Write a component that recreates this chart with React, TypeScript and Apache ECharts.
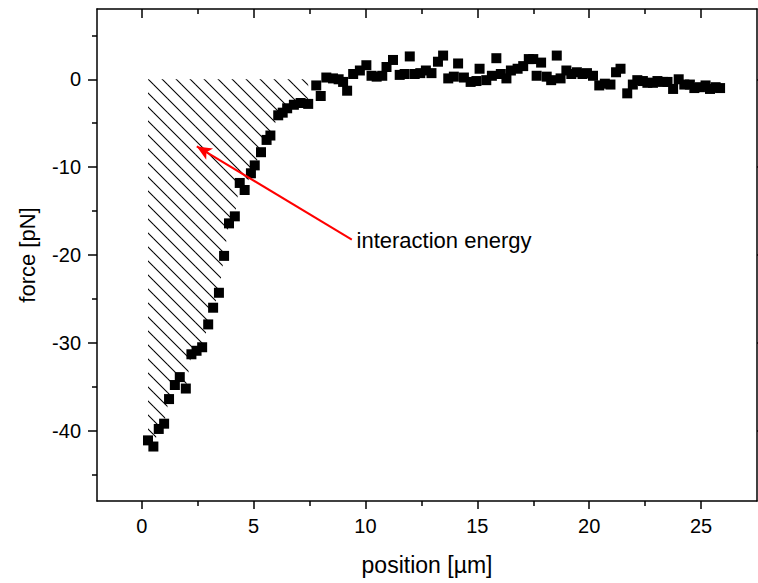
import React, { useEffect, useRef } from "react";
import * as echarts from "echarts";

const positionUm = [0.28,0.52,0.76,1.0,1.22,1.48,1.7,1.97,2.22,2.45,2.7,2.97,3.19,3.45,3.68,3.9,4.16,4.38,4.6,4.88,5.05,5.33,5.58,5.75,6.1,6.3,6.5,6.8,7.1,7.44,7.8,8.0,8.25,8.55,8.8,9.0,9.18,9.45,9.75,10.04,10.27,10.5,10.75,10.94,11.23,11.53,11.75,11.98,12.2,12.45,12.7,12.95,13.24,13.47,13.7,13.95,14.14,14.4,14.7,14.96,15.1,15.4,15.65,15.85,16.05,16.3,16.5,16.8,17.05,17.3,17.5,17.65,17.85,18.1,18.3,18.55,18.72,18.98,19.2,19.45,19.7,19.9,20.17,20.45,20.7,20.95,21.2,21.4,21.7,21.95,22.15,22.4,22.6,22.85,23.05,23.3,23.5,23.75,24.0,24.25,24.5,24.7,24.95,25.2,25.4,25.65,25.85];
const forcePN = [-41.1,-41.8,-39.8,-39.2,-36.4,-34.8,-33.9,-35.2,-31.3,-30.9,-30.5,-27.9,-26.0,-24.3,-20.1,-16.4,-15.6,-11.8,-12.6,-10.7,-9.8,-8.3,-6.9,-6.4,-4.1,-3.8,-3.3,-2.9,-2.7,-2.8,-0.7,-1.9,0.2,0.1,0.0,-0.3,-1.3,0.6,1.0,1.6,0.4,0.3,0.4,1.4,2.2,0.5,0.6,2.6,0.6,0.7,1.0,0.7,2.0,2.7,0.1,0.3,1.8,0.2,-0.3,-0.2,1.2,-0.1,0.4,2.4,0.6,0.1,1.0,1.2,1.5,2.3,2.3,0.4,1.9,0.3,-0.1,2.7,0.1,1.0,0.6,0.8,0.6,0.7,0.4,-0.7,-0.5,-0.6,0.8,1.2,-1.6,-0.6,-0.1,-0.2,-0.4,-0.4,-0.2,-0.3,-0.3,-1.1,0.0,-0.6,-0.6,-1.0,-0.9,-0.7,-1.1,-0.9,-1.0];

const hatchEndX = 7.44;
const xMajorTicks = [0, 5, 10, 15, 20, 25];
const xMinorTicks = [2.5, 7.5, 12.5, 17.5, 22.5];
const yMajorTicks = [-40, -30, -20, -10, 0];
const yMinorTicks = [-45, -35, -25, -15, -5, 5];
const arrowFrom = [9.39, -18.24];
const arrowTo = [2.46, -7.64];
const annotationAt = [9.58, -18.4];
const annotationText = "interaction energy";

const FONT = "'Liberation Sans', Arial, sans-serif";

function makeHatch(): HTMLCanvasElement {
  const s = 14;
  const c = document.createElement("canvas");
  c.width = s;
  c.height = s;
  const ctx = c.getContext("2d")!;
  ctx.strokeStyle = "#000";
  ctx.lineWidth = 1.1;
  const o = 13;
  for (let k = -2; k <= 2; k++) {
    const off = o + s * k;
    ctx.beginPath();
    ctx.moveTo(off - 4, -4);
    ctx.lineTo(off + s + 4, s + 4);
    ctx.stroke();
  }
  return c;
}

export default function App() {
  const ref = useRef<HTMLDivElement>(null);
  useEffect(() => {
    if (!ref.current) return;
    const chart = echarts.init(ref.current, null, { renderer: "svg" });
    const pts = positionUm.map((x, i) => [x, forcePN[i]]);
    const hatchPts = pts.filter((p) => p[0] <= hatchEndX);
    const hatch = makeHatch();
    const axisLine = { show: true, onZero: false, lineStyle: { color: "#000", width: 1.5 } };
    const noLine = { show: false, onZero: false };
    const baseX = { type: "value", min: -2, max: 27.5, splitLine: { show: false }, gridIndex: 0 };
    const baseY = { type: "value", min: -48, max: 8, splitLine: { show: false }, gridIndex: 0 };
    const tickStyle = { color: "#000", width: 1.5 };
    chart.setOption({
      animation: false,
      backgroundColor: "#fff",
      grid: { left: 97, right: 1, top: 9, bottom: 82, containLabel: false, outerBoundsMode: "none" },
      xAxis: [
        {
          ...baseX,
          position: "bottom",
          axisLine,
          axisTick: { show: true, inside: false, length: 8, customValues: xMajorTicks, lineStyle: tickStyle },
          axisLabel: { show: true, customValues: xMajorTicks, margin: 15, fontSize: 20, color: "#000", fontFamily: FONT },
          name: "position [µm]",
          nameLocation: "middle",
          nameGap: 52,
          nameTextStyle: { fontSize: 23, color: "#000", fontFamily: FONT },
        },
        {
          ...baseX,
          position: "bottom",
          axisLine: noLine,
          axisTick: { show: true, inside: false, length: 5, customValues: xMinorTicks, lineStyle: tickStyle },
          axisLabel: { show: false },
        },
        {
          ...baseX,
          position: "top",
          axisLine,
          axisTick: { show: true, inside: true, length: 9, customValues: xMajorTicks, lineStyle: tickStyle },
          axisLabel: { show: false },
        },
        {
          ...baseX,
          position: "top",
          axisLine: noLine,
          axisTick: { show: true, inside: true, length: 5, customValues: xMinorTicks, lineStyle: tickStyle },
          axisLabel: { show: false },
        },
      ],
      yAxis: [
        {
          ...baseY,
          position: "left",
          axisLine,
          axisTick: { show: true, inside: false, length: 9, customValues: yMajorTicks, lineStyle: tickStyle },
          axisLabel: { show: true, customValues: yMajorTicks, margin: 16, fontSize: 20, color: "#000", fontFamily: FONT },
          name: "force [pN]",
          nameLocation: "middle",
          nameGap: 59,
          nameRotate: 90,
          nameTextStyle: { fontSize: 22, color: "#000", fontFamily: FONT },
        },
        {
          ...baseY,
          position: "left",
          axisLine: noLine,
          axisTick: { show: true, inside: false, length: 5, customValues: yMinorTicks, lineStyle: tickStyle },
          axisLabel: { show: false },
        },
        {
          ...baseY,
          position: "right",
          axisLine,
          axisTick: { show: true, inside: false, length: 8, customValues: yMajorTicks, lineStyle: tickStyle },
          axisLabel: { show: false },
        },
      ],
      series: [
        {
          type: "line",
          name: "hatch",
          data: hatchPts,
          xAxisIndex: 0,
          yAxisIndex: 0,
          symbol: "none",
          lineStyle: { width: 0, opacity: 0 },
          areaStyle: {
            opacity: 1,
            origin: 0,
            color: { image: hatch, repeat: "repeat", imageWidth: 14, imageHeight: 14 } as any,
          },
          silent: true,
          z: 1,
        },
        {
          type: "scatter",
          name: "force",
          data: pts,
          xAxisIndex: 0,
          yAxisIndex: 0,
          symbol: "rect",
          symbolSize: 10,
          itemStyle: { color: "#000", opacity: 1 },
          z: 3,
          markLine: {
            silent: true,
            symbol: ["none", "arrow"],
            symbolSize: [10, 15],
            label: { show: false },
            lineStyle: { color: "#ff0000", width: 2, type: "solid" },
            data: [[{ coord: arrowFrom }, { coord: arrowTo }]],
          },
          markPoint: {
            silent: true,
            symbol: "circle",
            symbolSize: 1,
            itemStyle: { color: "rgba(0,0,0,0)" },
            label: {
              show: true,
              position: "right",
              distance: 0,
              formatter: annotationText,
              color: "#000",
              fontSize: 22,
              fontFamily: FONT,
            },
            data: [{ coord: annotationAt }],
          },
        },
      ],
    } as any);
    return () => chart.dispose();
  }, []);
  return <div ref={ref} style={{ width: 758, height: 583, position: "absolute", left: 0, top: 0 }} />;
}
